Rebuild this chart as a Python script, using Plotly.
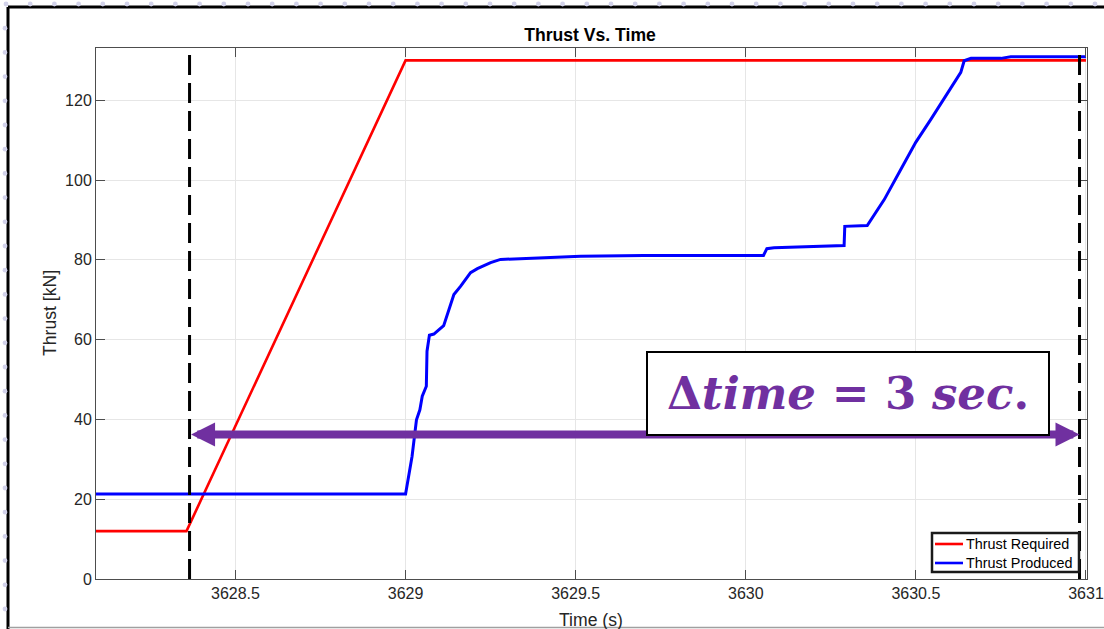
import plotly.graph_objects as go

# ---- data -------------------------------------------------------------
t_required = [3628.09, 3628.356, 3629.0, 3631.0]
thrust_required = [12.0, 12.0, 130.0, 130.0]

t_produced = [3628.09, 3629.000, 3629.019, 3629.032, 3629.042, 3629.049, 3629.061,
              3629.063, 3629.070, 3629.083, 3629.112, 3629.122, 3629.142, 3629.162,
              3629.191, 3629.211, 3629.250, 3629.279, 3629.515, 3629.700, 3629.985,
              3630.052, 3630.062, 3630.083, 3630.289, 3630.291, 3630.357, 3630.407,
              3630.456, 3630.500, 3630.544, 3630.600, 3630.632, 3630.642, 3630.662,
              3630.750, 3630.779, 3631.0]
thrust_produced = [21.3, 21.3, 30.7, 39.9, 42.4, 45.8, 48.3,
                   57.1, 61.1, 61.4, 63.5, 66.3, 71.3, 73.4,
                   76.8, 77.8, 79.3, 80.1, 80.9, 81.1, 81.1,
                   81.1, 82.8, 83.0, 83.6, 88.4, 88.6, 95.1,
                   102.7, 109.5, 115.2, 122.5, 127.0, 129.9, 130.5,
                   130.5, 130.9, 130.9]

series_names = ["Thrust Required", "Thrust Produced"]
series_colors = ["#ff0000", "#0000ff"]

t_markers = [3628.365, 3630.981]     # dashed time markers
arrow_level = 36.2                    # height of the delta-time arrow [kN]
delta_label = "<b>\u0394<i>time</i> = 3 <i>sec</i>.</b>"

x_ticks = [3628.5, 3629, 3629.5, 3630, 3630.5, 3631]
x_tick_text = ["3628.5", "3629", "3629.5", "3630", "3630.5", "3631"]
y_ticks = [0, 20, 40, 60, 80, 100, 120]

# ---- layout constants --------------------------------------------------
W, H = 1104, 629
ML, MR, MT, MB = 96, 17, 48, 50
PW, PH = W - ML - MR, H - MT - MB


def px_x(p):
    return (p - ML) / PW


def px_y(p):
    return (H - MB - p) / PH


AX_COL = "#4d4d4d"
TXT_COL = "#262626"
PURPLE = "#7030A0"
FONT = "Liberation Sans, Arial, sans-serif"

fig = go.Figure()

fig.add_trace(go.Scatter(x=t_required, y=thrust_required, mode="lines",
                         name=series_names[0], showlegend=False,
                         line=dict(color=series_colors[0], width=2.6)))
fig.add_trace(go.Scatter(x=t_produced, y=thrust_produced, mode="lines",
                         name=series_names[1], showlegend=False,
                         line=dict(color=series_colors[1], width=3)))

shapes = []
# dashed time markers
for t in t_markers:
    shapes.append(dict(type="line", xref="x", yref="y", x0=t, x1=t, y0=0, y1=132.2,
                       line=dict(color="black", width=3, dash="20px,8px")))

# slide frame around the chart
shapes.append(dict(type="line", xref="paper", yref="paper",
                   x0=px_x(8), x1=px_x(W + 5), y0=px_y(7), y1=px_y(7),
                   line=dict(color="black", width=3), layer="above"))
shapes.append(dict(type="line", xref="paper", yref="paper",
                   x0=px_x(8), x1=px_x(8), y0=px_y(7), y1=px_y(H + 5),
                   line=dict(color="black", width=3), layer="above"))
shapes.append(dict(type="line", xref="paper", yref="paper",
                   x0=px_x(8), x1=px_x(W + 5), y0=px_y(627.5), y1=px_y(627.5),
                   line=dict(color="#a0a0a0", width=1.5), layer="above"))

# dotted slide background
for i in range(46):
    cx = 6 + i * 24.2
    shapes.append(dict(type="circle", xref="paper", yref="paper",
                       x0=px_x(cx - 2.4), x1=px_x(cx + 2.4),
                       y0=px_y(4 - 2.4), y1=px_y(4 + 2.4),
                       fillcolor="#d2d2ea", line=dict(width=0), layer="above"))
for j in range(1, 26):
    cy = 4 + j * 24.2
    shapes.append(dict(type="circle", xref="paper", yref="paper",
                       x0=px_x(5 - 2.4), x1=px_x(5 + 2.4),
                       y0=px_y(cy - 2.4), y1=px_y(cy + 2.4),
                       fillcolor="#d2d2ea", line=dict(width=0), layer="above"))

annotations = [
    # double-headed delta-time arrow between the markers
    dict(x=t_markers[1], y=arrow_level, ax=t_markers[0], ay=arrow_level,
         xref="x", yref="y", axref="x", ayref="y", text="", showarrow=True,
         arrowhead=2, startarrowhead=2, arrowside="end+start",
         arrowsize=0.6, startarrowsize=0.6, arrowwidth=8, arrowcolor=PURPLE,
         standoff=0, startstandoff=0),
    # delta-time label box
    dict(x=px_x(848), y=px_y(393.5), xref="paper", yref="paper",
         text=delta_label, showarrow=False, xanchor="center", yanchor="middle",
         width=398, height=79, bgcolor="white", bordercolor="black", borderwidth=2,
         font=dict(family="DejaVu Serif, serif", size=45, color=PURPLE)),
    # axis labels
    dict(x=px_x(50), y=px_y(313), xref="paper", yref="paper", text="Thrust [kN]",
         textangle=-90, showarrow=False, xanchor="center", yanchor="middle",
         font=dict(family=FONT, size=17.6, color=TXT_COL)),
    dict(x=px_x(591), y=px_y(620), xref="paper", yref="paper", text="Time (s)",
         showarrow=False, xanchor="center", yanchor="middle",
         font=dict(family=FONT, size=17.6, color=TXT_COL)),
]

# legend box in the lower-right corner
LEG_L, LEG_R, LEG_T, LEG_B = 932, 1079, 533, 572
shapes.append(dict(type="rect", xref="paper", yref="paper",
                   x0=px_x(LEG_L), x1=px_x(LEG_R), y0=px_y(LEG_B), y1=px_y(LEG_T),
                   fillcolor="white", line=dict(color="#1a1a1a", width=2.5),
                   layer="above"))
for k, (name, col) in enumerate(zip(series_names, series_colors)):
    row_y = 544 + k * 19
    shapes.append(dict(type="line", xref="paper", yref="paper",
                       x0=px_x(935), x1=px_x(963), y0=px_y(row_y), y1=px_y(row_y),
                       line=dict(color=col, width=2.6), layer="above"))
    annotations.append(dict(x=px_x(964), y=px_y(row_y), xref="paper", yref="paper",
                            text=name, showarrow=False, xanchor="left",
                            yanchor="middle",
                            font=dict(family=FONT, size=14.4, color="#000000")))

fig.update_layout(
    width=W, height=H,
    margin=dict(l=ML, r=MR, t=MT, b=MB, autoexpand=False),
    paper_bgcolor="white", plot_bgcolor="white",
    title=dict(text="<b>Thrust Vs. Time</b>", x=590 / W, xanchor="center",
               y=1 - 35 / H, yanchor="middle",
               font=dict(family=FONT, size=17.6, color="#000000")),
    shapes=shapes,
    annotations=annotations,
    showlegend=False,
)

fig.update_xaxes(range=[3628.09, 3631.003], tickvals=x_ticks, ticktext=x_tick_text,
                 showgrid=True, gridcolor="#e6e6e6", gridwidth=1, zeroline=False,
                 showline=True, linecolor=AX_COL, linewidth=1, mirror="allticks",
                 ticks="inside", ticklen=9, tickcolor=AX_COL,
                 tickfont=dict(family=FONT, size=16, color=TXT_COL))
fig.update_yaxes(range=[0, 133.1], tickvals=y_ticks,
                 showgrid=True, gridcolor="#e6e6e6", gridwidth=1, zeroline=False,
                 showline=True, linecolor=AX_COL, linewidth=1, mirror="allticks",
                 ticks="inside", ticklen=9, tickcolor=AX_COL,
                 tickfont=dict(family=FONT, size=16, color=TXT_COL))

fig.write_html("out.html")
